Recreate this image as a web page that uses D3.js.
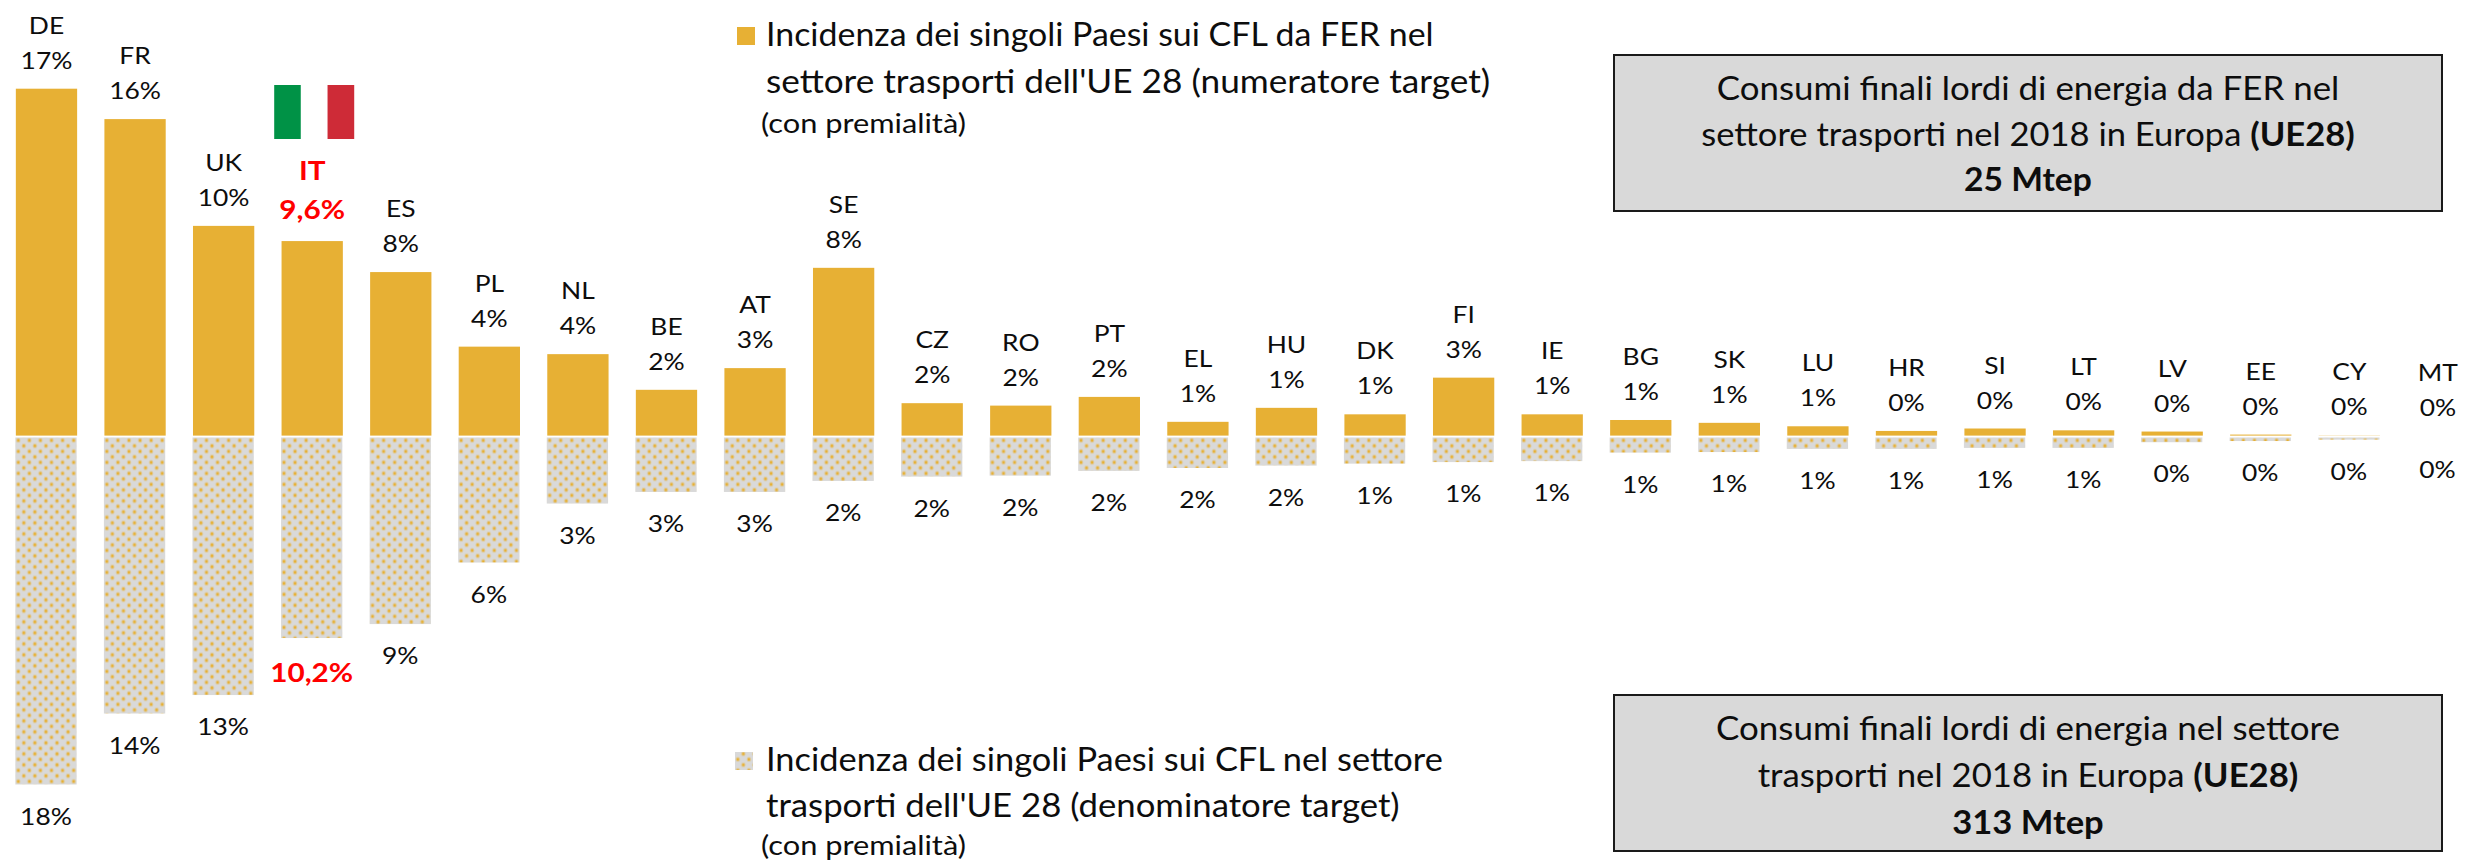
<!DOCTYPE html>
<html><head><meta charset="utf-8">
<script src="https://cdn.jsdelivr.net/npm/d3@7"></script>
<style>html,body{margin:0;padding:0;background:#fff}svg{display:block}text{font-family:Lato,"Open Sans",sans-serif;fill:#0d0d0d}</style>
</head><body><svg id="c" width="2471" height="865"></svg>
<script>
const countries=["DE","FR","UK","IT","ES","PL","NL","BE","AT","SE","CZ","RO","PT","EL","HU","DK","FI","IE","BG","SK","LU","HR","SI","LT","LV","EE","CY","MT"];
const numeratorShare=[17.12,15.62,10.35,9.6,8.07,4.39,4.02,2.26,3.33,8.28,1.6,1.48,1.91,0.68,1.37,1.05,2.86,1.05,0.77,0.63,0.46,0.23,0.35,0.26,0.2,0.05,0.01,0];
const denominatorShare=[17.65,14.04,13.1,10.2,9.49,6.36,3.36,2.77,2.77,2.21,1.99,1.94,1.7,1.55,1.43,1.33,1.25,1.2,0.77,0.74,0.58,0.58,0.53,0.53,0.24,0.18,0.11,0];
const numeratorLabels=["17%","16%","10%","9,6%","8%","4%","4%","2%","3%","8%","2%","2%","2%","1%","1%","1%","3%","1%","1%","1%","1%","0%","0%","0%","0%","0%","0%","0%"];
const denominatorLabels=["18%","14%","13%","10,2%","9%","6%","3%","3%","3%","2%","2%","2%","2%","2%","2%","1%","1%","1%","1%","1%","1%","1%","1%","1%","0%","0%","0%","0%"];
const highlight="IT";
const legendTop=["Incidenza dei singoli Paesi sui CFL da FER nel","settore trasporti dell'UE 28 (numeratore target)","(con premialità)"];
const legendBottom=["Incidenza dei singoli Paesi sui CFL nel settore","trasporti dell'UE 28 (denominatore target)","(con premialità)"];
const boxTop=[[["Consumi finali lordi di energia da FER nel",0]],[["settore trasporti nel 2018 in Europa ",0],["(UE28)",1]],[["25 Mtep",1]]];
const boxBottom=[[["Consumi finali lordi di energia nel settore",0]],[["trasporti nel 2018 in Europa ",0],["(UE28)",1]],[["313 Mtep",1]]];

const GOLD="#e7b034",GREY="#d9d9d9",RED="#ff0000";
const svg=d3.select("#c");
const x=d3.scaleBand().domain(countries).range([2.2,2482.2]).paddingInner(0.308).paddingOuter(0.154);
const yTop=d3.scaleLinear().domain([0,17.12]).range([435.6,88.7]);
const yBot=d3.scaleLinear().domain([0,17.65]).range([437.5,784.5]);

const pat=svg.append("defs").append("pattern").attr("id","dots").attr("patternUnits","userSpaceOnUse")
 .attr("x",15.5).attr("y",437.5).attr("width",11.07).attr("height",11);
pat.append("rect").attr("width",11.07).attr("height",11).attr("fill",GREY);
[[2.8,2.9],[8.3,8.4]].forEach(p=>{
 pat.append("circle").attr("cx",p[0]).attr("cy",p[1]).attr("r",2.3).attr("fill",GOLD).attr("opacity",.35);
 pat.append("circle").attr("cx",p[0]).attr("cy",p[1]).attr("r",1.3).attr("fill",GOLD);
});

const rows=countries.map((c,i)=>({c,n:numeratorShare[i],d:denominatorShare[i],nl:numeratorLabels[i],dl:denominatorLabels[i]}));
svg.append("g").selectAll("rect").data(rows).join("rect")
 .attr("x",d=>x(d.c)).attr("width",x.bandwidth()).attr("y",d=>yTop(d.n)).attr("height",d=>yTop(0)-yTop(d.n)).attr("fill",GOLD);
svg.append("g").selectAll("rect").data(rows).join("rect")
 .attr("x",d=>x(d.c)-.5).attr("width",x.bandwidth()).attr("y",yBot(0)).attr("height",d=>yBot(d.d)-yBot(0)).attr("fill","url(#dots)");

const hi=d=>d.c===highlight;
const cx=d=>x(d.c)+x.bandwidth()/2;
const STRETCH=1.1; // the reference face is wider than Lato at the same cap height
const place=(px,py)=>d=>`translate(${px(d)},${py(d)}) scale(${STRETCH},1)`;
const lab=svg.append("g").attr("text-anchor","middle");
const style=s=>s.attr("font-size",d=>hi(d)?27:24).attr("font-weight",d=>hi(d)?700:400).style("fill",d=>hi(d)?RED:null);
lab.append("g").selectAll("text").data(rows).join("text").text(d=>d.c)
 .attr("transform",place(cx,d=>yTop(d.n)-(hi(d)?61:55))).call(style);
lab.append("g").selectAll("text").data(rows).join("text").text(d=>d.nl)
 .attr("transform",place(cx,d=>yTop(d.n)-(hi(d)?22:20))).call(style);
lab.append("g").selectAll("text").data(rows).join("text").text(d=>d.dl)
 .attr("transform",place(d=>cx(d)-.5,d=>yBot(d.d)+(hi(d)?44:40))).call(style);

// Italian flag above the IT label
const flag=svg.append("g");
[["#009246",0],["#ffffff",1],["#ce2b37",2]].forEach(([f,i])=>
 flag.append("rect").attr("x",cx(rows[3])-38+i*26.67).attr("y",85).attr("width",26.67).attr("height",54).attr("fill",f));

// legends
function legend(lines,swatch,sy,ys,sx,ks){
 svg.append("rect").attr("x",sx).attr("y",sy).attr("width",18).attr("height",18).attr("fill",swatch);
 lines.forEach((t,i)=>svg.append("text").text(t)
  .attr("transform",`translate(${i<2?766:761},${ys[i]}) scale(${ks[i]},1)`).attr("font-size",i<2?32:27));
}
legend(legendTop,GOLD,27,[46,93,133],737,[1.06,1.10,1.14]);
legend(legendBottom,"url(#dots)",752,[771,817,855],735,[1.075,1.086,1.14]);

// boxes
function box(lines,top,step,ks){
 const h=156;
 svg.append("rect").attr("x",1614).attr("y",top).attr("width",828).attr("height",h).attr("fill",GREY).attr("stroke","#1a1a1a").attr("stroke-width",2);
 lines.forEach((parts,i)=>{
  const t=svg.append("text").attr("transform",`translate(2028,${top+45+i*step}) scale(${ks[i]},1)`).attr("text-anchor","middle").attr("font-size",32);
  parts.forEach(([s,b])=>t.append("tspan").text(s).attr("font-weight",b?700:400));
 });
}
box(boxTop,55,45.5,[1.09,1.08,1.05]);
box(boxBottom,695,47,[1.093,1.085,1.08]);
</script></body></html>
